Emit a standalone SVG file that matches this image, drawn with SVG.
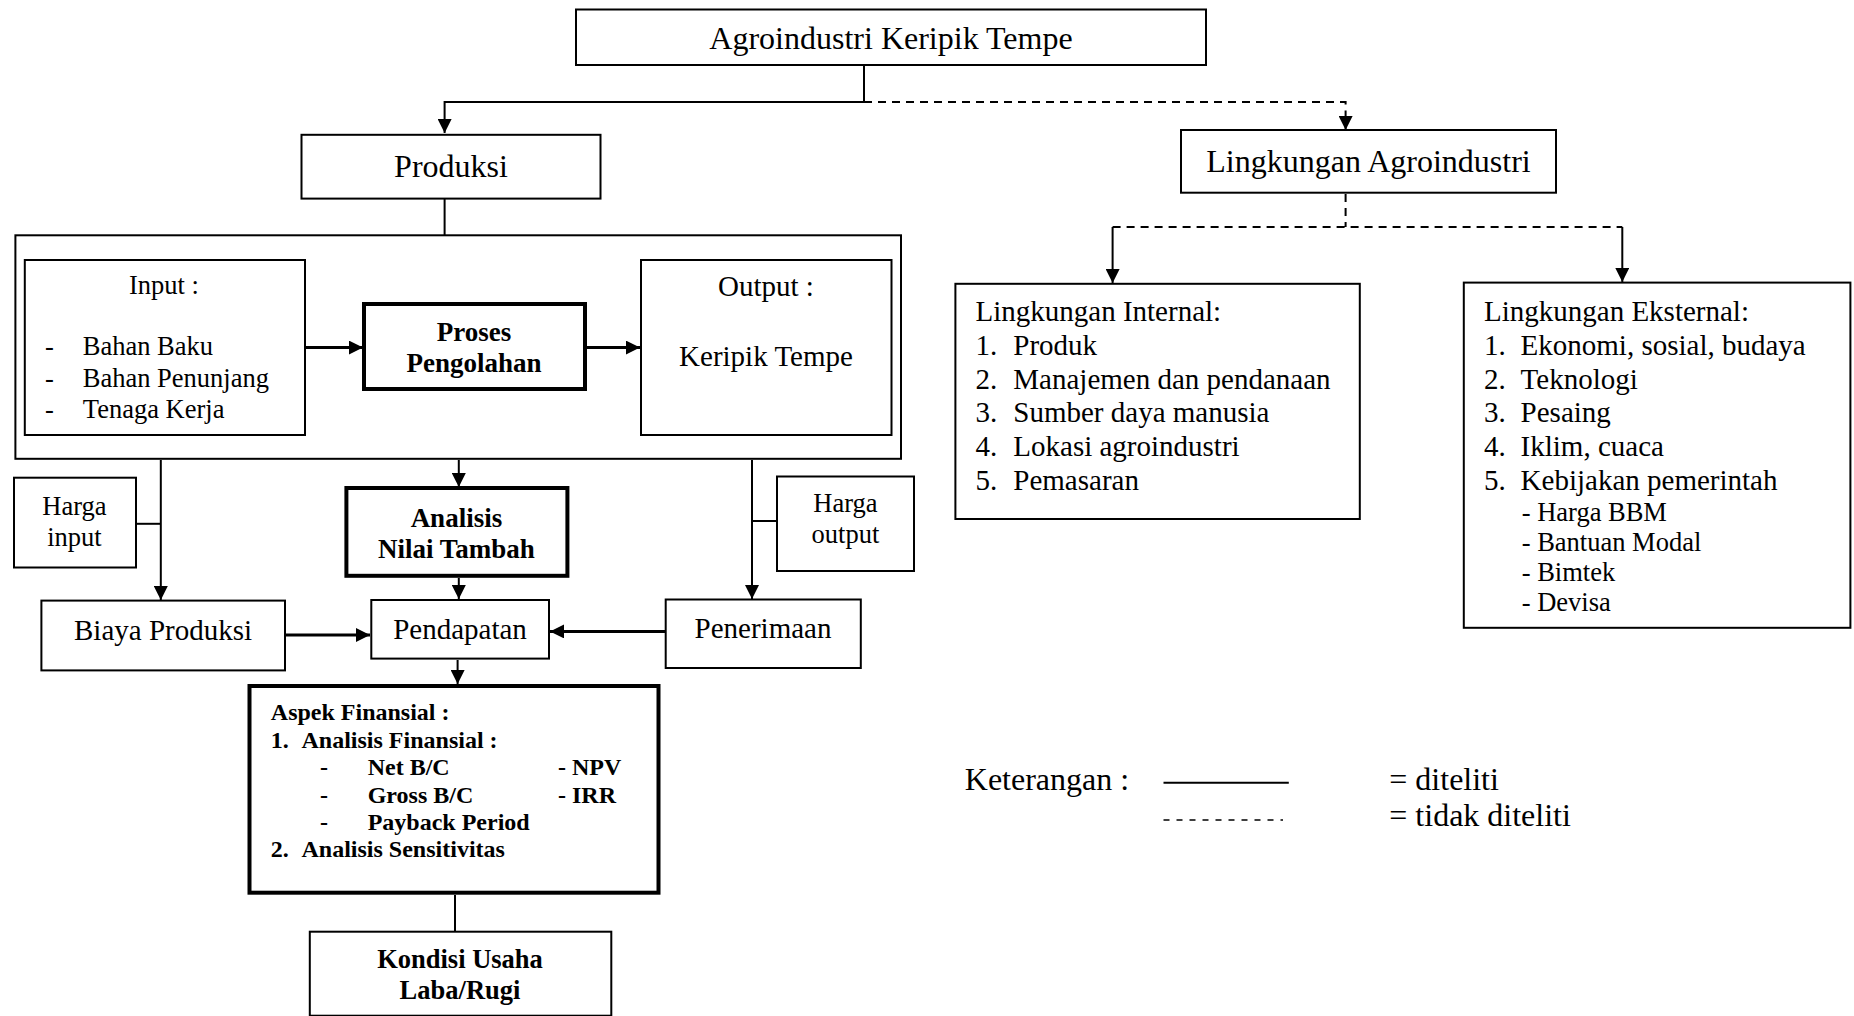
<svg xmlns="http://www.w3.org/2000/svg" width="1854" height="1016" viewBox="0 0 1854 1016">
<style>
text{font-family:"Liberation Serif","Times New Roman",serif;fill:#000}
.b{fill:#fff;stroke:#000;stroke-width:2}
.tk{fill:#fff;stroke:#000;stroke-width:4}
.c{fill:none;stroke:#000;stroke-width:2}
.c3{fill:none;stroke:#000;stroke-width:3}
.d{fill:none;stroke:#000;stroke-width:2;stroke-dasharray:8 6}
.h{font-size:32px}
.m{font-size:29px}
.s{font-size:26.5px}
.bd{font-weight:bold;font-size:27px}
.f{font-weight:bold;font-size:24px}
.mid{text-anchor:middle}
</style>
<defs>
<marker id="ar" markerUnits="userSpaceOnUse" markerWidth="16" markerHeight="14" refX="14" refY="7" orient="auto">
<path d="M0,0 L14,7 L0,14 Z" fill="#000"/>
</marker>
</defs>
<rect width="1854" height="1016" fill="#fff"/>

<g id="agroindustri">
<rect class="b" x="576" y="9.5" width="630" height="55.5"/>
<text class="h mid" x="891" y="49">Agroindustri Keripik Tempe</text>
</g>

<g id="produksi">
<rect class="b" x="301.5" y="134.8" width="299" height="63.8"/>
<text class="h mid" x="451" y="177">Produksi</text>
</g>

<g id="produksi-group">
<rect class="b" x="15.4" y="235.3" width="885.6" height="223.5"/>
</g>

<g id="input">
<rect class="b" x="24.8" y="260" width="280.2" height="175"/>
<text class="s mid" x="164" y="294">Input :</text>
<text class="s" x="45" y="355">-</text>
<text class="s" x="82.8" y="355">Bahan Baku</text>
<text class="s" x="45" y="387">-</text>
<text class="s" x="82.8" y="387">Bahan Penunjang</text>
<text class="s" x="45" y="418">-</text>
<text class="s" x="82.8" y="418">Tenaga Kerja</text>
</g>

<g id="proses">
<rect class="tk" x="364" y="304" width="221" height="85"/>
<text class="bd mid" x="474" y="341">Proses</text>
<text class="bd mid" x="474" y="372">Pengolahan</text>
</g>

<g id="output">
<rect class="b" x="641" y="260" width="250.5" height="175"/>
<text class="m mid" x="766" y="296">Output :</text>
<text class="m mid" x="766" y="366">Keripik Tempe</text>
</g>

<g id="harga-input">
<rect class="b" x="14" y="477.7" width="122" height="89.8"/>
<text class="s mid" x="74.5" y="515">Harga</text>
<text class="s mid" x="74.5" y="546">input</text>
</g>

<g id="harga-output">
<rect class="b" x="777" y="476.5" width="137" height="94.5"/>
<text class="s mid" x="845.4" y="512">Harga</text>
<text class="s mid" x="845.4" y="543">output</text>
</g>

<g id="analisis-nilai-tambah">
<rect class="tk" x="346.4" y="488" width="221" height="87.8"/>
<text class="bd mid" x="456.4" y="527">Analisis</text>
<text class="bd mid" x="456.4" y="558">Nilai Tambah</text>
</g>

<g id="biaya-produksi">
<rect class="b" x="41.4" y="600.6" width="243.6" height="69.8"/>
<text class="m mid" x="163" y="640">Biaya Produksi</text>
</g>

<g id="pendapatan">
<rect class="b" x="371.3" y="600" width="177.7" height="58.6"/>
<text class="m mid" x="460" y="639">Pendapatan</text>
</g>

<g id="penerimaan">
<rect class="b" x="665.7" y="599.5" width="195.1" height="68.5"/>
<text class="m mid" x="763" y="638">Penerimaan</text>
</g>

<g id="aspek-finansial">
<rect class="tk" x="249.5" y="686" width="409" height="206.7"/>
<text class="f" x="270.8" y="720">Aspek Finansial :</text>
<text class="f" x="270.8" y="748">1.</text>
<text class="f" x="301.5" y="748">Analisis Finansial :</text>
<text class="f" x="320" y="775">-</text>
<text class="f" x="367.7" y="775">Net B/C</text>
<text class="f" x="558" y="775">- NPV</text>
<text class="f" x="320" y="803">-</text>
<text class="f" x="367.7" y="803">Gross B/C</text>
<text class="f" x="558" y="803">- IRR</text>
<text class="f" x="320" y="830">-</text>
<text class="f" x="367.7" y="830">Payback Period</text>
<text class="f" x="270.8" y="857">2.</text>
<text class="f" x="301.5" y="857">Analisis Sensitivitas</text>
</g>

<g id="kondisi-usaha">
<rect class="b" x="309.8" y="931.7" width="301.5" height="84"/>
<text class="bd mid" x="460" y="968" style="font-size:26.5px">Kondisi Usaha</text>
<text class="bd mid" x="460" y="999" style="font-size:26.5px">Laba/Rugi</text>
</g>

<g id="lingkungan-agroindustri">
<rect class="b" x="1181" y="130" width="375" height="62.7"/>
<text class="h mid" x="1368.5" y="172">Lingkungan Agroindustri</text>
</g>

<g id="lingkungan-internal">
<rect class="b" x="955.4" y="283.8" width="404.4" height="235.2"/>
<text class="m" x="975.5" y="321">Lingkungan Internal:</text>
<text class="m" x="975.5" y="355">1.</text><text class="m" x="1013.3" y="355">Produk</text>
<text class="m" x="975.5" y="389">2.</text><text class="m" x="1013.3" y="389">Manajemen dan pendanaan</text>
<text class="m" x="975.5" y="422">3.</text><text class="m" x="1013.3" y="422">Sumber daya manusia</text>
<text class="m" x="975.5" y="456">4.</text><text class="m" x="1013.3" y="456">Lokasi agroindustri</text>
<text class="m" x="975.5" y="490">5.</text><text class="m" x="1013.3" y="490">Pemasaran</text>
</g>

<g id="lingkungan-eksternal">
<rect class="b" x="1463.8" y="282.6" width="386.6" height="345.2"/>
<text class="m" x="1484" y="321">Lingkungan Eksternal:</text>
<text class="m" x="1484" y="355">1.</text><text class="m" x="1520.6" y="355">Ekonomi, sosial, budaya</text>
<text class="m" x="1484" y="389">2.</text><text class="m" x="1520.6" y="389">Teknologi</text>
<text class="m" x="1484" y="422">3.</text><text class="m" x="1520.6" y="422">Pesaing</text>
<text class="m" x="1484" y="456">4.</text><text class="m" x="1520.6" y="456">Iklim, cuaca</text>
<text class="m" x="1484" y="490">5.</text><text class="m" x="1520.6" y="490">Kebijakan pemerintah</text>
<text class="s" x="1521.7" y="521">- Harga BBM</text>
<text class="s" x="1521.7" y="551">- Bantuan Modal</text>
<text class="s" x="1521.7" y="581">- Bimtek</text>
<text class="s" x="1521.7" y="611">- Devisa</text>
</g>

<g id="keterangan">
<text class="h" x="964.8" y="790">Keterangan :</text>
<line x1="1163.5" y1="782.8" x2="1288.8" y2="782.8" stroke="#000" stroke-width="2"/>
<line x1="1163.5" y1="820" x2="1283" y2="820" stroke="#000" stroke-width="1.5" stroke-dasharray="6 7"/>
<text class="h" x="1389.3" y="790">= diteliti</text>
<text class="h" x="1389.3" y="826">= tidak diteliti</text>
</g>

<g id="connectors">
<path class="c" d="M864,65 V102 H444.6 V133" marker-end="url(#ar)"/>
<path class="d" d="M864,102 H1345.6 V130" marker-end="url(#ar)"/>
<path class="c" d="M444.6,199 V235"/>
<path class="c3" d="M306,347.6 H363" marker-end="url(#ar)"/>
<path class="c3" d="M587,347.6 H640" marker-end="url(#ar)"/>
<path class="c" d="M160.8,460 V600" marker-end="url(#ar)"/>
<path class="c" d="M137,523.8 H160.8"/>
<path class="c" d="M458.8,460 V487" marker-end="url(#ar)"/>
<path class="c" d="M752,460 V599" marker-end="url(#ar)"/>
<path class="c" d="M776,521 H752"/>
<path class="c" d="M458.8,578 V599" marker-end="url(#ar)"/>
<path class="c3" d="M286,635 H370" marker-end="url(#ar)"/>
<path class="c3" d="M665,631.4 H550" marker-end="url(#ar)"/>
<path class="c" d="M457.6,660 V684" marker-end="url(#ar)"/>
<path class="c" d="M455,895 V931"/>
<path class="d" d="M1345.6,194 V227 M1112.6,227 H1622.3"/>
<path class="c" d="M1112.6,227 V283" marker-end="url(#ar)"/>
<path class="c" d="M1622.3,227 V282" marker-end="url(#ar)"/>
</g>
</svg>
